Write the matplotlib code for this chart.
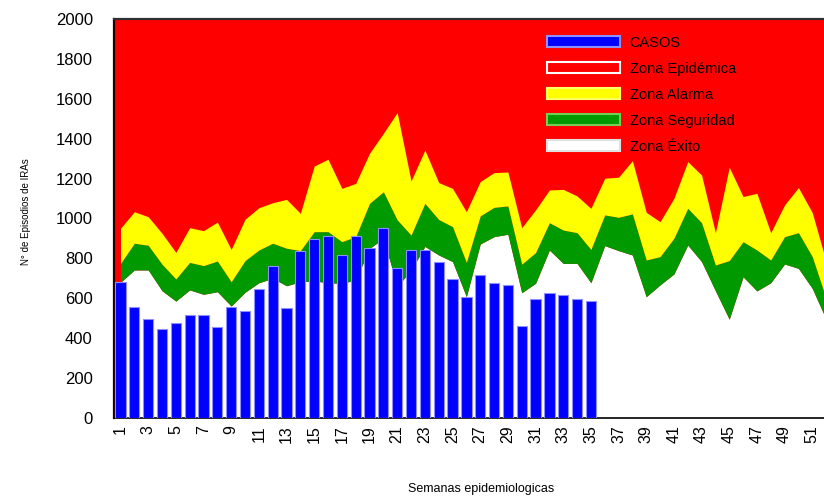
import matplotlib
matplotlib.use("Agg")
import matplotlib.pyplot as plt
from matplotlib.patches import Patch
import numpy as np

plt.rcParams['font.family'] = ['Liberation Sans', 'DejaVu Sans']

semanas = list(range(1, 53))
casos = [680, 558, 495, 445, 478, 516, 516, 456, 558, 538, 645, 762, 550, 837, 897,
         912, 817, 912, 852, 954, 754, 842, 842, 784, 698, 605, 715, 675, 665, 460,
         597, 627, 618, 597, 585]
limite_exito = [680, 742, 742, 638, 586, 642, 620, 633, 561, 630, 678, 700, 663, 683, 687,
                678, 675, 692, 850, 900, 660, 740, 860, 817, 784, 608, 872, 909, 921, 628,
                675, 842, 775, 775, 678, 864, 839, 817, 608, 667, 722, 867, 784, 638, 495,
                708, 637, 678, 772, 750, 650, 495]
limite_seguridad = [775, 876, 866, 771, 697, 780, 764, 787, 683, 789, 842, 876, 851, 839, 934,
                    934, 884, 909, 1076, 1134, 993, 917, 1076, 995, 959, 780, 1013, 1056, 1063, 771,
                    829, 979, 942, 929, 845, 1018, 1006, 1023, 792, 809, 901, 1051, 979, 767, 789,
                    884, 842, 792, 909, 929, 809, 600]
limite_alarma = [951, 1034, 1009, 926, 830, 954, 939, 982, 845, 996, 1054, 1079, 1096, 1026, 1263,
                 1297, 1151, 1176, 1327, 1427, 1531, 1188, 1343, 1180, 1151, 1034, 1185, 1230, 1233, 954,
                 1043, 1143, 1146, 1113, 1051, 1202, 1207, 1290, 1031, 984, 1101, 1285, 1218, 929, 1257,
                 1110, 1126, 929, 1068, 1155, 1030, 785]
y_ticks = list(range(0, 2001, 200))
x_ticks = list(range(1, 52, 2))

ROJO = '#FF0000'
AMARILLO = '#FFFF00'
VERDE = '#009900'
AZUL = '#0000FF'

fig = plt.figure(figsize=(8.24, 4.96), dpi=100)
ax = fig.add_axes([113.6 / 824, 78 / 496, (833 - 113.6) / 824, 399 / 496])
ax.set_facecolor(ROJO)

x = np.array(semanas)
ax.fill_between(x, 0, limite_exito, color='white', linewidth=0)
ax.fill_between(x, limite_exito, limite_seguridad, color=VERDE, linewidth=0)
ax.fill_between(x, limite_seguridad, limite_alarma, color=AMARILLO, linewidth=0)

ax.bar(semanas[:len(casos)], casos, width=0.74, color=AZUL, edgecolor='#8f8fff',
       linewidth=0.8, zorder=3)

ax.set_xlim(0.5, 52.5)
ax.set_ylim(0, 2000)
ax.set_yticks(y_ticks)
ax.set_yticklabels([str(v) for v in y_ticks], fontsize=12)
ax.set_xticks(x_ticks)
ax.set_xticklabels([str(v) for v in x_ticks], fontsize=11.5, rotation=90)
ax.tick_params(axis='y', length=0, pad=15)
ax.tick_params(axis='x', length=0, pad=5)

ax.spines['left'].set_color('#200000')
ax.spines['left'].set_linewidth(1.6)
ax.spines['bottom'].set_color('black')
ax.spines['bottom'].set_linewidth(1.2)
ax.spines['top'].set_color('#303030')
ax.spines['top'].set_linewidth(1.6)
ax.spines['right'].set_visible(False)

fig.text(0.031, 0.573, 'N° de Episodios de IRAs', rotation=90, fontsize=7,
         ha='center', va='center')
fig.text(0.584, 0.014, 'Semanas epidemiologicas', fontsize=9,
         family=['Liberation Sans Narrow', 'Liberation Sans', 'DejaVu Sans'],
         ha='center', va='center')

handles = [
    Patch(facecolor=AZUL, edgecolor='#8f8fff', linewidth=1.5, label='CASOS'),
    Patch(facecolor=ROJO, edgecolor='white', linewidth=1.5, label='Zona Epidémica'),
    Patch(facecolor=AMARILLO, edgecolor='#ffff66', linewidth=1.5, label='Zona Alarma'),
    Patch(facecolor=VERDE, edgecolor='#77cc55', linewidth=1.5, label='Zona Seguridad'),
    Patch(facecolor='white', edgecolor='#e0e0e0', linewidth=1.5, label='Zona Éxito'),
]
leg = fig.legend(handles=handles, loc='upper left', bbox_to_anchor=(0.664, 0.928),
                 frameon=False, fontsize=10.5, handlelength=5.0, handleheight=0.8,
                 handletextpad=0.65, labelspacing=0.82, borderpad=0, borderaxespad=0)

fig.savefig('out.png', dpi=100)
